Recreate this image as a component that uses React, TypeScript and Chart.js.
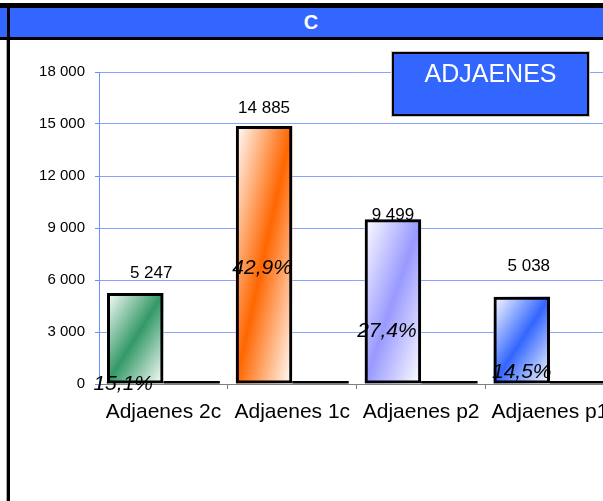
import React, { useEffect, useRef } from "react";
import { Chart, registerables } from "chart.js";

Chart.register(...registerables);

const categories = ["Adjaenes 2c", "Adjaenes 1c", "Adjaenes p2", "Adjaenes p1"];
const values = [5247, 14885, 9499, 5038];
const baselineSeries = [0, 0, 0, 0];
const percentLabels = ["15,1%", "42,9%", "27,4%", "14,5%"];
const barColors = ["#339966", "#FF6600", "#9999FF", "#3366FF"];
const yTicks = [0, 3000, 6000, 9000, 12000, 15000, 18000];
const legendTitle = "ADJAENES";
const chartTitle = "C";

// label placement quirks of the original (pixel offsets, value anchors)
const valueLabelDx = [16, 0, 0, 7];
const valueLabelRise = [20, 18, 4, 30];
const pctLabelAt = [0, 6680, 3020, 700];
const pctLabelDx = [-12, -2, -6, 0];

const FONT = "'Liberation Sans', Arial, sans-serif";

function fmt(v: number) {
  return String(v).replace(/\B(?=(\d{3})+(?!\d))/g, " ");
}

const gradientPlugin = {
  id: "gradFill",
  beforeDatasetsDraw(chart: any) {
    const ctx = chart.ctx;
    const meta = chart.getDatasetMeta(0);
    meta.data.forEach((bar: any, i: number) => {
      const x0 = bar.x - bar.width / 2;
      const x1 = bar.x + bar.width / 2;
      const y0 = Math.min(bar.y, bar.base);
      const y1 = Math.max(bar.y, bar.base);
      const w = x1 - x0;
      const h = y1 - y0;
      const cx = (x0 + x1) / 2;
      const cy = (y0 + y1) / 2;
      const k = (w * h) / (w * w + h * h);
      const g = ctx.createLinearGradient(cx - h * k, cy - w * k, cx + h * k, cy + w * k);
      g.addColorStop(0, "#ffffff");
      g.addColorStop(0.5, barColors[i]);
      g.addColorStop(1, "#ffffff");
      ctx.save();
      ctx.fillStyle = g;
      ctx.fillRect(x0, y0, w, h);
      ctx.restore();
    });
  },
};

const labelsPlugin = {
  id: "labels",
  afterDatasetsDraw(chart: any) {
    const ctx = chart.ctx;
    const meta = chart.getDatasetMeta(0);
    const yScale = chart.scales.y;
    ctx.save();
    ctx.fillStyle = "#000";
    ctx.textAlign = "center";
    ctx.textBaseline = "middle";
    meta.data.forEach((bar: any, i: number) => {
      ctx.font = `17px ${FONT}`;
      ctx.fillText(fmt(values[i]), bar.x + valueLabelDx[i], bar.y - valueLabelRise[i]);
      ctx.font = `italic 21px ${FONT}`;
      ctx.fillText(percentLabels[i], bar.x + pctLabelDx[i], yScale.getPixelForValue(pctLabelAt[i]));
    });
    ctx.restore();
  },
  afterDraw(chart: any) {
    const ctx = chart.ctx;
    const a = chart.chartArea;
    const bx = a.left + 293;
    const by = a.top - 20;
    const bw = 197;
    const bh = 64;
    ctx.save();
    ctx.fillStyle = "#c8c8c8";
    ctx.fillRect(bx - 1, by - 1, bw + 2, bh + 2);
    ctx.fillStyle = "#3366FF";
    ctx.fillRect(bx, by, bw, bh);
    ctx.strokeStyle = "#000";
    ctx.lineWidth = 2;
    ctx.strokeRect(bx + 1, by + 1, bw - 2, bh - 2);
    ctx.fillStyle = "#fff";
    ctx.font = `25px ${FONT}`;
    ctx.textAlign = "center";
    ctx.textBaseline = "middle";
    ctx.fillText(legendTitle, bx + bw / 2, by + 23);
    ctx.restore();
  },
};

export default function App() {
  const ref = useRef<HTMLCanvasElement>(null);

  useEffect(() => {
    const canvas = ref.current!;
    const chart = new Chart(canvas, {
      type: "bar",
      data: {
        labels: categories,
        datasets: [
          {
            data: values,
            backgroundColor: "rgba(0,0,0,0)",
            borderColor: "#000",
            borderWidth: 3,
            borderSkipped: false,
            categoryPercentage: 0.876,
            barPercentage: 1,
          },
          {
            data: baselineSeries,
            backgroundColor: "#000",
            borderWidth: 0,
            minBarLength: 3,
            categoryPercentage: 0.876,
            barPercentage: 1,
          },
        ],
      },
      options: {
        responsive: false,
        animation: false,
        devicePixelRatio: 1,
        layout: { padding: { top: 32, left: 0, right: 5, bottom: 0 } },
        plugins: {
          legend: { display: false },
          tooltip: { enabled: false },
          title: { display: false },
        },
        scales: {
          x: {
            grid: {
              display: true,
              offset: true,
              drawOnChartArea: false,
              drawTicks: true,
              tickLength: 5,
              color: "#808080",
            },
            border: { display: true, color: "#808080", width: 1 },
            ticks: {
              color: "#000",
              font: { family: FONT, size: 21 },
              padding: 11,
              maxRotation: 0,
              autoSkip: false,
            },
            afterFit: (s: any) => {
              s.height = 117;
            },
          },
          y: {
            min: 0,
            max: 18000,
            afterBuildTicks: (s: any) => {
              s.ticks = yTicks.map((v) => ({ value: v }));
            },
            grid: {
              color: "#88a4ff",
              lineWidth: 1,
              tickLength: 4,
              tickColor: "#6d8fff",
            },
            border: { display: true, color: "#6d8fff", width: 1 },
            ticks: {
              color: "#000",
              font: { family: FONT, size: 15 },
              padding: 10,
              callback: (v: any) => fmt(Number(v)),
            },
            afterFit: (s: any) => {
              s.width = 99;
            },
          },
        },
      },
      plugins: [gradientPlugin, labelsPlugin],
    });
    return () => chart.destroy();
  }, []);

  return (
    <div
      style={{
        position: "fixed",
        left: 0,
        top: 0,
        width: 603,
        height: 501,
        overflow: "hidden",
        background: "#fff",
      }}
    >
      <canvas
        ref={ref}
        width={620}
        height={461}
        style={{ position: "absolute", left: 0, top: 40, width: 620, height: 461 }}
      />
      <div style={{ position: "absolute", left: 0, top: 3, width: 603, height: 5, background: "#000" }} />
      <div style={{ position: "absolute", left: 0, top: 8, width: 603, height: 29, background: "#3366FF" }} />
      <div style={{ position: "absolute", left: 0, top: 37, width: 603, height: 3, background: "#000" }} />
      <div
        style={{
          position: "absolute",
          left: 0,
          top: 8,
          width: 622,
          height: 29,
          lineHeight: "29px",
          textAlign: "center",
          color: "#fff",
          fontFamily: FONT,
          fontWeight: "bold",
          fontSize: 20,
        }}
      >
        {chartTitle}
      </div>
      <div style={{ position: "absolute", left: 6, top: 40, width: 1, height: 461, background: "#aaa" }} />
      <div style={{ position: "absolute", left: 7, top: 8, width: 3, height: 493, background: "#000" }} />
    </div>
  );
}
